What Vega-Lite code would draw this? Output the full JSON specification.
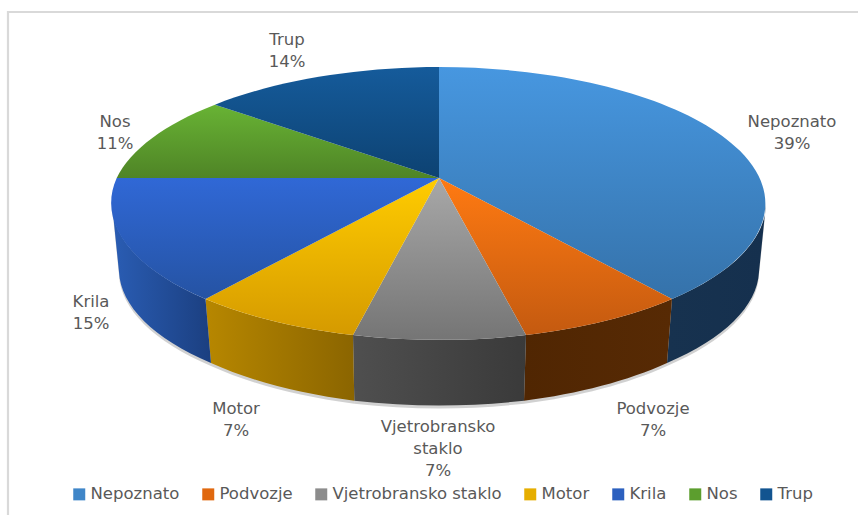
{
"$schema":"https://vega.github.io/schema/vega-lite/v6.json",
"width":860,"height":510,"autosize":{"type":"none"},
"padding":{"left":8,"top":12,"right":0,"bottom":0},
"background":"#ffffff",
"view":{"stroke":"#d9d9d9","strokeWidth":2.2},
"config":{"text":{"font":"DejaVu Sans"}},
"data":{"values":[
{"part":"Nepoznato","value":39,"label":"Nepoznato\n39%"},
{"part":"Podvozje","value":7,"label":"Podvozje\n7%"},
{"part":"Vjetrobransko staklo","value":7,"label":"Vjetrobransko\nstaklo\n7%"},
{"part":"Motor","value":7,"label":"Motor\n7%"},
{"part":"Krila","value":15,"label":"Krila\n15%"},
{"part":"Nos","value":11,"label":"Nos\n11%"},
{"part":"Trup","value":14,"label":"Trup\n14%"}
]},
"layer":[
{"transform":[{"filter":"indexof(['Nepoznato','Podvozje','Vjetrobransko staklo','Motor','Krila'],datum.part)>=0"}],
 "mark":{"type":"point","filled":true,"size":4,"opacity":0.45,"fill":"#999999","xOffset":1,"yOffset":-60.5},
 "encoding":{"shape":{"field":"part","type":"nominal","legend":null,"scale":{"domain":["Nepoznato","Podvozje","Vjetrobransko staklo","Motor","Krila"],"range":[
 "M327,0A327,136.5 0 0 1 233,95.5L228,159.5A320,133.8 0 0 0 320,68.5Z",
 "M233,95.5A327,136.5 0 0 1 87,131.5L85,197.2A320,133.8 0 0 0 228,159.5Z",
 "M87,131.5A327,136.5 0 0 1 -86,131.5L-84.7,197.2A320,133.8 0 0 0 85,197.2Z",
 "M-86,131.5A327,136.5 0 0 1 -233.5,95.5L-228,159.5A320,133.8 0 0 0 -84.7,197.2Z",
 "M-233.5,95.5A327,136.5 0 0 1 -327,0L-320,68.5A320,133.8 0 0 0 -228,159.5Z"]}}}},
{"transform":[{"filter":"indexof(['Nepoznato','Podvozje','Vjetrobransko staklo','Motor','Krila'],datum.part)>=0"}],
 "mark":{"type":"point","filled":true,"size":4,"opacity":1,"xOffset":1,"yOffset":-63.5},
 "encoding":{"shape":{"field":"part","type":"nominal","legend":null,"scale":{"domain":["Nepoznato","Podvozje","Vjetrobransko staklo","Motor","Krila"],"range":[
 "M327,0A327,136.5 0 0 1 233,95.5L228,159.5A320,133.8 0 0 0 320,68.5Z",
 "M233,95.5A327,136.5 0 0 1 87,131.5L85,197.2A320,133.8 0 0 0 228,159.5Z",
 "M87,131.5A327,136.5 0 0 1 -86,131.5L-84.7,197.2A320,133.8 0 0 0 85,197.2Z",
 "M-86,131.5A327,136.5 0 0 1 -233.5,95.5L-228,159.5A320,133.8 0 0 0 -84.7,197.2Z",
 "M-233.5,95.5A327,136.5 0 0 1 -327,0L-320,68.5A320,133.8 0 0 0 -228,159.5Z"]}},
 "color":{"condition":[
  {"test":"datum.part==='Nepoznato'","value":{"gradient":"linear","x1":0,"y1":0,"x2":1,"y2":0,"stops":[{"offset":0,"color":"#17324f"},{"offset":1,"color":"#15304e"}]}},
  {"test":"datum.part==='Podvozje'","value":{"gradient":"linear","x1":0,"y1":0,"x2":1,"y2":0,"stops":[{"offset":0,"color":"#502602"},{"offset":1,"color":"#572a04"}]}},
  {"test":"datum.part==='Vjetrobransko staklo'","value":{"gradient":"linear","x1":0,"y1":0,"x2":1,"y2":0,"stops":[{"offset":0,"color":"#4f4f4f"},{"offset":1,"color":"#3a3a3a"}]}},
  {"test":"datum.part==='Motor'","value":{"gradient":"linear","x1":0,"y1":0,"x2":1,"y2":0,"stops":[{"offset":0,"color":"#b78700"},{"offset":1,"color":"#8b6500"}]}}
 ],"value":{"gradient":"linear","x1":0,"y1":0,"x2":1,"y2":0,"stops":[{"offset":0,"color":"#2a5db4"},{"offset":1,"color":"#1b3f80"}]}}}},
{"mark":{"type":"point","filled":true,"size":4,"opacity":1,"xOffset":1,"yOffset":-63.5},
 "encoding":{"shape":{"field":"part","type":"nominal","legend":null,"scale":{"domain":["Nepoznato","Podvozje","Vjetrobransko staklo","Motor","Krila","Nos","Trup"],"range":[
 "M0,-25.5L0,-136.5A327,136.5 0 0 1 233,95.5Z",
 "M0,-25.5L233,95.5A327,136.5 0 0 1 87,131.5Z",
 "M0,-25.5L87,131.5A327,136.5 0 0 1 -86,131.5Z",
 "M0,-25.5L-86,131.5A327,136.5 0 0 1 -233.5,95.5Z",
 "M0,-25.5L-233.5,95.5A327,136.5 0 0 1 -322.3,-25.5Z",
 "M0,-25.5L-322.3,-25.5A327,136.5 0 0 1 -224,-98.8Z",
 "M0,-25.5L-224,-98.8A327,136.5 0 0 1 0,-136.5Z"]}},
 "color":{"condition":[
  {"test":"datum.part==='Nepoznato'","value":{"gradient":"linear","x1":0,"y1":0,"x2":0,"y2":1,"stops":[{"offset":0,"color":"#4797e0"},{"offset":1,"color":"#3572aa"}]}},
  {"test":"datum.part==='Podvozje'","value":{"gradient":"linear","x1":0,"y1":0,"x2":0,"y2":1,"stops":[{"offset":0,"color":"#ff7a12"},{"offset":1,"color":"#c45a10"}]}},
  {"test":"datum.part==='Vjetrobransko staklo'","value":{"gradient":"linear","x1":0,"y1":0,"x2":0,"y2":1,"stops":[{"offset":0,"color":"#a8a8a8"},{"offset":1,"color":"#757575"}]}},
  {"test":"datum.part==='Motor'","value":{"gradient":"linear","x1":0,"y1":0,"x2":0,"y2":1,"stops":[{"offset":0,"color":"#ffcc00"},{"offset":1,"color":"#d59a00"}]}},
  {"test":"datum.part==='Krila'","value":{"gradient":"linear","x1":0,"y1":0,"x2":0,"y2":1,"stops":[{"offset":0,"color":"#3068d6"},{"offset":1,"color":"#2553a3"}]}},
  {"test":"datum.part==='Nos'","value":{"gradient":"linear","x1":0,"y1":0,"x2":0,"y2":1,"stops":[{"offset":0,"color":"#68b334"},{"offset":1,"color":"#4f8426"}]}}
 ],"value":{"gradient":"linear","x1":0,"y1":0,"x2":0,"y2":1,"stops":[{"offset":0,"color":"#155b9b"},{"offset":1,"color":"#0d4272"}]}}}},
{"mark":{"type":"point","filled":true,"size":0,"opacity":1},
 "encoding":{"color":{"field":"part","type":"nominal","scale":{"domain":["Nepoznato","Podvozje","Vjetrobransko staklo","Motor","Krila","Nos","Trup"],"range":["#3f86c8","#e0680f","#8c8c8c","#e6ae00","#2c60bf","#5c9e2e","#125490"]},
  "legend":{"orient":"none","legendX":63,"legendY":474,"direction":"horizontal","columns":7,"title":null,"symbolType":"square","symbolSize":144,"symbolOpacity":1,"symbolStrokeWidth":0,"labelFont":"DejaVu Sans","labelFontSize":16.5,"labelColor":"#595959","labelOffset":3,"columnPadding":20,"labelLimit":220}}}},
{"transform":[{"filter":"datum.part==='Nepoznato'"}],"mark":{"type":"text","dx":354,"dy":-153,"baseline":"top","align":"center","fontSize":16.5,"lineHeight":22,"lineBreak":"\n","color":"#595959"},"encoding":{"text":{"field":"label"}}},
{"transform":[{"filter":"datum.part==='Podvozje'"}],"mark":{"type":"text","dx":215,"dy":134,"baseline":"top","align":"center","fontSize":16.5,"lineHeight":22,"lineBreak":"\n","color":"#595959"},"encoding":{"text":{"field":"label"}}},
{"transform":[{"filter":"datum.part==='Vjetrobransko staklo'"}],"mark":{"type":"text","dx":0,"dy":152,"baseline":"top","align":"center","fontSize":16.5,"lineHeight":22,"lineBreak":"\n","color":"#595959"},"encoding":{"text":{"field":"label"}}},
{"transform":[{"filter":"datum.part==='Motor'"}],"mark":{"type":"text","dx":-202,"dy":134,"baseline":"top","align":"center","fontSize":16.5,"lineHeight":22,"lineBreak":"\n","color":"#595959"},"encoding":{"text":{"field":"label"}}},
{"transform":[{"filter":"datum.part==='Krila'"}],"mark":{"type":"text","dx":-347,"dy":27,"baseline":"top","align":"center","fontSize":16.5,"lineHeight":22,"lineBreak":"\n","color":"#595959"},"encoding":{"text":{"field":"label"}}},
{"transform":[{"filter":"datum.part==='Nos'"}],"mark":{"type":"text","dx":-323,"dy":-153,"baseline":"top","align":"center","fontSize":16.5,"lineHeight":22,"lineBreak":"\n","color":"#595959"},"encoding":{"text":{"field":"label"}}},
{"transform":[{"filter":"datum.part==='Trup'"}],"mark":{"type":"text","dx":-151,"dy":-235,"baseline":"top","align":"center","fontSize":16.5,"lineHeight":22,"lineBreak":"\n","color":"#595959"},"encoding":{"text":{"field":"label"}}}
],
"resolve":{"scale":{"shape":"independent"}}
}
